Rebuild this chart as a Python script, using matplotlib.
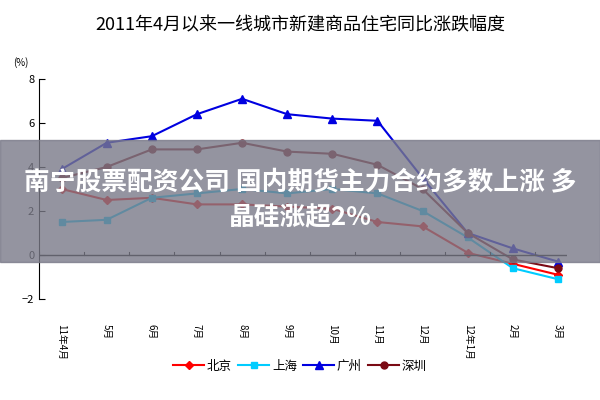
import matplotlib
matplotlib.use("Agg")
import matplotlib.pyplot as plt
import numpy as np

plt.rcParams['font.family'] = ['Noto Sans CJK SC', 'DejaVu Sans']

months = ["11年4月", "5月", "6月", "7月", "8月", "9月", "10月", "11月", "12月", "12年1月", "2月", "3月"]
beijing = [3.0, 2.5, 2.6, 2.3, 2.3, 2.2, 2.1, 1.5, 1.3, 0.1, -0.4, -0.9]
shanghai = [1.5, 1.6, 2.6, 2.8, 3.0, 2.8, 3.0, 2.8, 2.0, 0.8, -0.6, -1.1]
guangzhou = [3.9, 5.1, 5.4, 6.4, 7.1, 6.4, 6.2, 6.1, 3.5, 1.0, 0.3, -0.3]
shenzhen = [3.5, 4.0, 4.8, 4.8, 5.1, 4.7, 4.6, 4.1, 3.0, 1.0, -0.2, -0.6]

fig = plt.figure(figsize=(6, 4), dpi=100)
ax = fig.add_axes([0.065, 0.2525, 0.88, 0.55])
x = np.arange(len(months))
ax.plot(x, beijing, color='#ff0000', marker='D', ms=4, lw=1.5, label='北京')
ax.plot(x, shanghai, color='#00ccff', marker='s', ms=5, lw=1.5, label='上海')
ax.plot(x, guangzhou, color='#0000e0', marker='^', ms=6, lw=1.5, label='广州')
ax.plot(x, shenzhen, color='#7a0a14', marker='o', ms=5, lw=1.5, label='深圳')
ax.set_ylim(-2, 8)
ax.set_xlim(-0.5, 11.2)
ax.set_yticks([-2, 0, 2, 4, 6, 8])
ax.tick_params(axis='y', labelsize=8, direction='in', length=4)
for s in ['top', 'right', 'bottom']:
    ax.spines[s].set_visible(False)
ax.axhline(0, color='black', lw=1)
for xi in np.arange(-0.5, 11.6, 1):
    ax.plot([xi, xi], [0, 0.15], color='black', lw=0.8)
ax.set_xticks(x)
ax.set_xticklabels(months, rotation=270, fontsize=7)
ax.tick_params(axis='x', length=0, pad=18)
ax.text(-0.035, 1.06, '(%)', transform=ax.transAxes, fontsize=7, ha='center')
fig.suptitle('2011年4月以来一线城市新建商品住宅同比涨跌幅度', y=0.96, fontsize=13)
fig.legend(loc='lower center', ncol=4, frameon=False, fontsize=9, bbox_to_anchor=(0.5, 0.04),
           handlelength=2.5, columnspacing=0.5, handletextpad=0.2)
fig.patches.append(plt.Rectangle((0, 0.345), 1, 0.305, transform=fig.transFigure,
                                 color='#7a7a88', alpha=0.8, zorder=10))
fig.text(0.5, 0.545, '南宁股票配资公司 国内期货主力合约多数上涨 多', color='white', fontsize=18.5,
         fontweight='bold', ha='center', va='center', zorder=11)
fig.text(0.5, 0.455, '晶硅涨超2%', color='white', fontsize=18.5,
         fontweight='bold', ha='center', va='center', zorder=11)
fig.savefig('out.png')
